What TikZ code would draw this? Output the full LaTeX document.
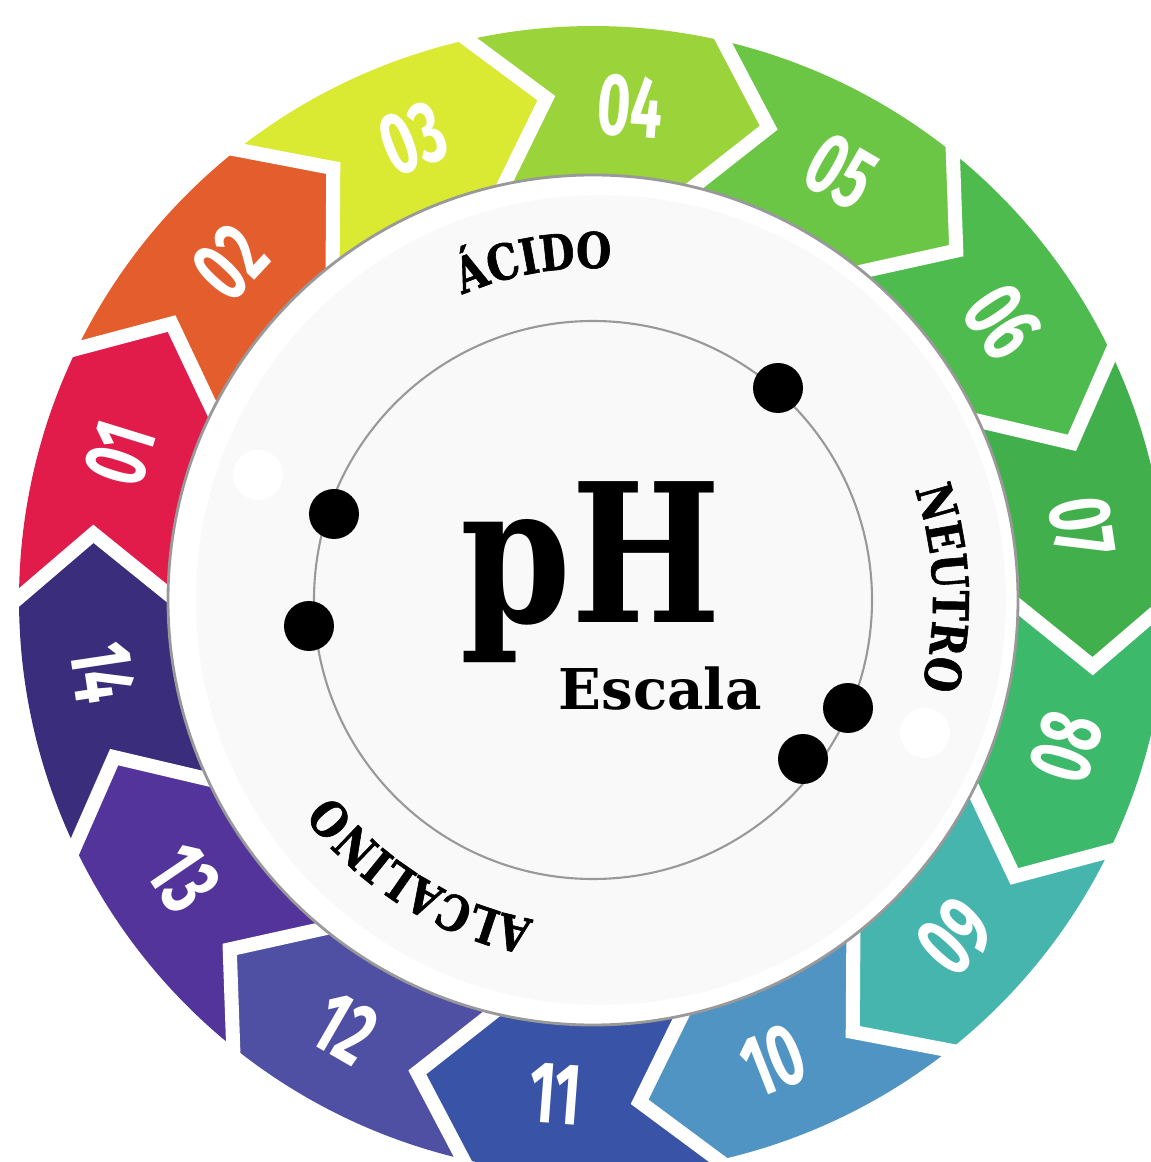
\documentclass[tikz,border=0pt]{standalone}
\usepackage{fontspec}
\usepackage{graphicx}
\usepackage{xcolor}
\usetikzlibrary{calc,decorations.text}
\newfontfamily\slabfont{DejaVu Serif}
\newfontfamily\slabnarrow[FakeStretch=0.82,FakeBold=1.2]{DejaVu Serif}
\newfontfamily\digitfont[FakeStretch=0.65]{Fira Sans}
\newcommand{\curvefont}{\slabnarrow\bfseries\fontsize{28}{28}\selectfont}
\definecolor{ph01}{HTML}{E11B4A}
\definecolor{ph02}{HTML}{E35D2D}
\definecolor{ph03}{HTML}{DAE932}
\definecolor{ph04}{HTML}{9AD43A}
\definecolor{ph05}{HTML}{6CC645}
\definecolor{ph06}{HTML}{4DBB4D}
\definecolor{ph07}{HTML}{40AF4C}
\definecolor{ph08}{HTML}{3DB96B}
\definecolor{ph09}{HTML}{45B5AE}
\definecolor{ph10}{HTML}{5094C3}
\definecolor{ph11}{HTML}{3953A6}
\definecolor{ph12}{HTML}{4F50A4}
\definecolor{ph13}{HTML}{53349A}
\definecolor{ph14}{HTML}{3A2D7C}
\definecolor{diskgray}{HTML}{F9F9F9}

\begin{document}
\begin{tikzpicture}[
    x=0.02cm, y=0.02cm,
    numlabel/.style={text=white, inner sep=0pt, font=\digitfont\bfseries\fontsize{50}{50}\selectfont},
    separator/.style={draw=white, line width=8pt, line join=miter},
    ring/.style={draw=black!40, line width=1.2pt},
    bigdot/.style={fill=black},
  ]
  \useasboundingbox (-593,-562) rectangle (558,600);

  % Chevron ring
  \foreach \k/\col in {1/ph01,2/ph02,3/ph03,4/ph04,5/ph05,6/ph06,7/ph07,
                       8/ph08,9/ph09,10/ph10,11/ph11,12/ph12,13/ph13,14/ph14} {
    \pgfmathsetmacro\ba{179.75-25.714*(\k-1)}
    \pgfmathsetmacro\bb{\ba-25.714}
    \pgfmathsetmacro\ta{\ba-7.3}
    \pgfmathsetmacro\tb{\bb-7.3}
    \fill[\col] (\ba:574) arc[start angle=\ba, end angle=\bb, radius=574]
      -- (\tb:504) -- (\bb:420) arc[start angle=\bb, end angle=\ba, radius=420]
      -- (\ta:504) -- cycle;
  }
  \foreach \k in {0,...,13} {
    \pgfmathsetmacro\b{179.75-25.714*\k}
    \pgfmathsetmacro\t{\b-7.3}
    \draw[separator] ($(\b:574)!-0.3!(\t:504)$) -- (\t:504) -- ($(\b:420)!-0.3!(\t:504)$);
  }

  % Numbers
  \foreach \k/\txt in {1/01,2/02,3/03,4/04,5/05,6/06,7/07} {
    \pgfmathsetmacro\t{188.5-25.714*\k}
    \node[numlabel, rotate=\t-90] (n\txt) at (\t:495) {\txt};
  }
  \foreach \k/\txt in {8/08,9/09,10/10,11/11,12/12,13/13,14/14} {
    \pgfmathsetmacro\t{188.5-25.714*\k}
    \node[numlabel, rotate=\t+90] (n\txt) at (\t:495) {\txt};
  }

  % Centre disk
  \fill[white] (0,0) circle[radius=425];
  \fill[diskgray] (8,0) circle[radius=405];
  \draw[black!40, line width=1.6pt] (0,0) circle[radius=425];
  \fill[white] (-335,125) circle[radius=25];
  \fill[white] (332,-133) circle[radius=25];
  \draw[ring] (0,0) circle[radius=279];
  \foreach \p in {(185,212),(-259,86),(-284,-26),(255,-108),(210,-159)}
    \fill[bigdot] \p circle[radius=25];

  \node[anchor=base, inner sep=0pt, font=\slabfont\bfseries\fontsize{110}{110}\selectfont] (ph) at (-2,-23) {\scalebox{0.82}[1]{pH}};
  \node[anchor=base, inner sep=0pt, font=\slabfont\bfseries\fontsize{32}{32}\selectfont] (escala) at (67,-110) {Escala};

  % Curved words
  \path[decorate, decoration={text along path, text align=center, text={|\curvefont|ÁCIDO}}]
    (140:332) arc[start angle=140, end angle=60, radius=332];
  \path[decorate, decoration={text along path, text align=center, text={|\curvefont|NEUTRO}}]
    (42:340) arc[start angle=42, end angle=-38, radius=340];
  \path[decorate, decoration={text along path, text align=center, text={|\curvefont|ALCALINO}}]
    (280:325) arc[start angle=280, end angle=196, radius=325];
\end{tikzpicture}
\end{document}
